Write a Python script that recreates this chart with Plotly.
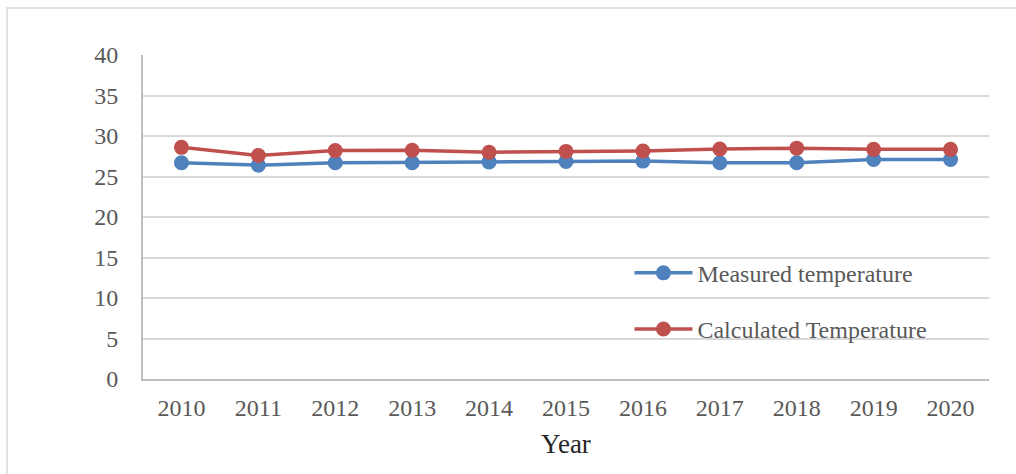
import plotly.graph_objects as go

years = ["2010", "2011", "2012", "2013", "2014", "2015", "2016", "2017", "2018", "2019", "2020"]
measured = [26.7, 26.4, 26.7, 26.7, 26.8, 26.85, 26.9, 26.7, 26.7, 27.1, 27.1]
calculated = [28.6, 27.6, 28.2, 28.25, 28.0, 28.1, 28.15, 28.4, 28.5, 28.35, 28.35]
y_ticks = [0, 5, 10, 15, 20, 25, 30, 35, 40]

BLUE = "#4F81BD"
RED = "#C0504D"
FONT = "Liberation Serif, Times New Roman, serif"

fig = go.Figure()
fig.add_trace(go.Scatter(
    x=years, y=measured, name="Measured temperature", mode="lines+markers",
    line=dict(color=BLUE, width=3.5), marker=dict(color=BLUE, size=15),
    legendgroup="a",
))
fig.add_trace(go.Scatter(
    x=years, y=calculated, name="Calculated Temperature", mode="lines+markers",
    line=dict(color=RED, width=3.5), marker=dict(color=RED, size=15),
    legendgroup="b",
))

# outer frame around the chart
fig.add_shape(type="rect", xref="paper", yref="paper",
              x0=(7 - 143) / 846, x1=(1030 - 143) / 846,
              y0=(379 - 500) / 324, y1=(379 - 8) / 324,
              line=dict(color="#d9d9d9", width=1.5), layer="below")

fig.update_layout(
    width=1016, height=474,
    margin=dict(l=143, r=27, t=55, b=95),
    paper_bgcolor="white", plot_bgcolor="white",
    font=dict(family=FONT, size=24, color="#595959"),
    showlegend=True,
    legend=dict(x=0.575, y=0.24, xanchor="left", yanchor="middle",
                bgcolor="rgba(0,0,0,0)", font=dict(size=24, color="#595959"),
                traceorder="grouped", tracegroupgap=22, itemwidth=58),
    xaxis=dict(type="category", range=[-0.5, 10.5], showgrid=False,
               showline=True, linecolor="#bfbfbf", linewidth=2,
               ticks="", ticklabelstandoff=6,
               title=dict(text="Year", font=dict(size=27, color="#262626"), standoff=14)),
    yaxis=dict(range=[0, 40], tickvals=y_ticks, showgrid=True, gridcolor="#d9d9d9",
               gridwidth=1.5, showline=True, linecolor="#bfbfbf", linewidth=2,
               zeroline=False, ticks="", ticklabelstandoff=18),
)

fig.write_html("out.html")
